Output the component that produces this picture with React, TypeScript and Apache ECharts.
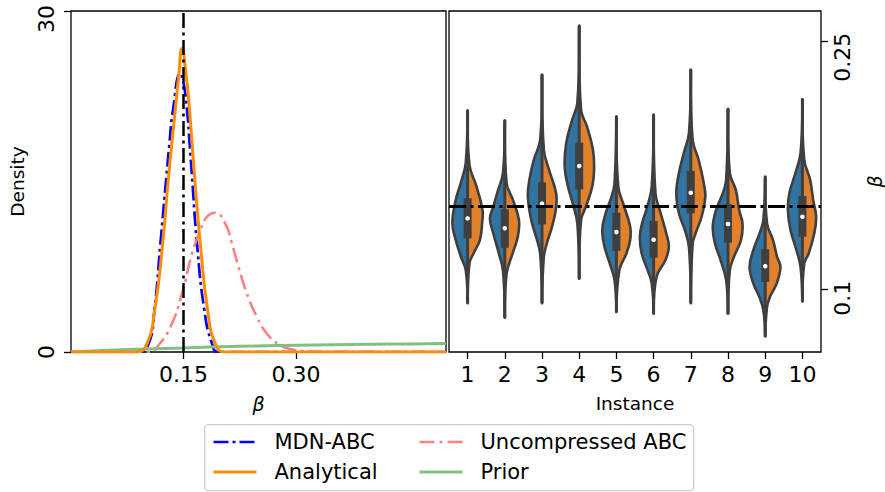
import React, { useEffect, useRef } from 'react';
import * as echarts from 'echarts';

// ---------- data ----------
const betaTicks = [0.15, 0.3];
const instanceLabels = ['1', '2', '3', '4', '5', '6', '7', '8', '9', '10'];
const violinTicks = [0.1, 0.25];
const trueBeta = 0.15;

// left panel: density curves [beta, density]
const mdnAbc: number[][] = [
  [0, 0], [0.09, 0], [0.1036, 0.74], [0.1112, 3.67], [0.1192, 9.54], [0.1272, 15.4], [0.1312, 18.3],
  [0.136, 21.3], [0.1458, 24.5], [0.1502, 23.6], [0.1547, 21.3], [0.1582, 18.3], [0.1614, 15.4],
  [0.168, 9.54], [0.1778, 3.67], [0.188, 0.74], [0.1964, 0], [0.5, 0],
];
const analytical: number[][] = [
  [0, 0], [0.088, 0], [0.1014, 0.74], [0.1116, 3.67], [0.1222, 9.54], [0.13, 15.4], [0.139, 21.3],
  [0.1435, 24.2], [0.148, 26.7], [0.1538, 24.2], [0.158, 21.3], [0.1648, 15.4], [0.1724, 9.54],
  [0.1822, 3.67], [0.1924, 0.74], [0.205, 0], [0.5, 0],
];
const uncompressedAbc: number[][] = [
  [0, 0], [0.106, 0], [0.1148, 0.44], [0.1325, 2.2], [0.148, 5.14], [0.1614, 8.66], [0.1724, 10.7],
  [0.1813, 11.9], [0.1924, 12.25], [0.2057, 11.3], [0.2146, 9.54], [0.2234, 7.48], [0.2346, 5.14],
  [0.2479, 3.08], [0.2612, 1.62], [0.279, 0.59], [0.2967, 0.2], [0.32, 0.04], [0.34, 0], [0.5, 0],
];
const prior: number[][] = [
  [0, 0], [0.05, 0.15], [0.1, 0.26], [0.15, 0.36], [0.2, 0.46], [0.25, 0.53], [0.3, 0.59],
  [0.35, 0.64], [0.4, 0.68], [0.45, 0.71], [0.5, 0.74],
];

// right panel: split violins per instance
const tailTop = [0.2078, 0.2018, 0.2294, 0.2591, 0.2042, 0.2052, 0.2325, 0.2087, 0.1678, 0.2147];
const tailBottom = [0.0915, 0.0827, 0.0915, 0.1063, 0.0861, 0.0851, 0.0915, 0.0851, 0.0713, 0.0925];
const upperQuartile = [0.1548, 0.1481, 0.1644, 0.1884, 0.146, 0.141, 0.1713, 0.1511, 0.1239, 0.1561];
const lowerQuartile = [0.1305, 0.1248, 0.139, 0.1602, 0.123, 0.1188, 0.1457, 0.1279, 0.1042, 0.1315];
const medians = [0.1426, 0.1366, 0.1515, 0.1743, 0.1343, 0.1297, 0.1581, 0.1392, 0.1137, 0.1436];

// [beta, half-width as fraction of the category band], top to bottom
const blueHalves: number[][][] = [
  [[0.176, 0.05], [0.1658, 0.16], [0.1537, 0.32], [0.1396, 0.41], [0.1295, 0.32], [0.1194, 0.18], [0.1113, 0.05]],
  [[0.1699, 0.05], [0.1598, 0.18], [0.1497, 0.31], [0.1426, 0.4], [0.1336, 0.31], [0.1214, 0.16], [0.1113, 0.05]],
  [[0.19, 0.05], [0.178, 0.22], [0.1658, 0.34], [0.1557, 0.38], [0.1416, 0.29], [0.1315, 0.16], [0.1214, 0.05]],
  [[0.2123, 0.05], [0.2022, 0.19], [0.1881, 0.35], [0.1739, 0.39], [0.1618, 0.3], [0.1497, 0.15], [0.1396, 0.05]],
  [[0.1638, 0.05], [0.1557, 0.13], [0.1457, 0.29], [0.1356, 0.38], [0.1254, 0.32], [0.1154, 0.18], [0.1053, 0.05]],
  [[0.1618, 0.05], [0.1497, 0.17], [0.1396, 0.31], [0.1315, 0.37], [0.1214, 0.32], [0.1113, 0.16], [0.1033, 0.05]],
  [[0.1941, 0.05], [0.182, 0.19], [0.1699, 0.32], [0.1578, 0.39], [0.1457, 0.32], [0.1356, 0.16], [0.1254, 0.05]],
  [[0.1658, 0.05], [0.1578, 0.14], [0.1477, 0.32], [0.1376, 0.41], [0.1275, 0.35], [0.1174, 0.2], [0.1053, 0.05]],
  [[0.1416, 0.05], [0.1336, 0.15], [0.1234, 0.32], [0.1133, 0.42], [0.1033, 0.32], [0.0952, 0.16], [0.0871, 0.05]],
  [[0.182, 0.05], [0.1699, 0.19], [0.1578, 0.35], [0.1477, 0.39], [0.1356, 0.32], [0.1234, 0.16], [0.1133, 0.05]],
];
const orangeHalves: number[][][] = [
  [[0.175, 0.05], [0.1618, 0.24], [0.1477, 0.4], [0.1396, 0.39], [0.1295, 0.33], [0.1214, 0.16], [0.1154, 0.05]],
  [[0.1638, 0.05], [0.1537, 0.22], [0.1416, 0.38], [0.1315, 0.35], [0.1214, 0.21], [0.1093, 0.05]],
  [[0.184, 0.05], [0.1719, 0.19], [0.1578, 0.38], [0.1477, 0.37], [0.1376, 0.27], [0.1275, 0.13], [0.1194, 0.05]],
  [[0.2082, 0.05], [0.1981, 0.21], [0.184, 0.37], [0.1719, 0.4], [0.1618, 0.35], [0.1497, 0.18], [0.1416, 0.05]],
  [[0.1618, 0.05], [0.1497, 0.21], [0.1376, 0.37], [0.1295, 0.37], [0.1214, 0.27], [0.1113, 0.08]],
  [[0.1578, 0.05], [0.1457, 0.19], [0.1336, 0.34], [0.1254, 0.41], [0.1174, 0.32], [0.1073, 0.08]],
  [[0.19, 0.05], [0.178, 0.21], [0.1638, 0.35], [0.1557, 0.39], [0.1436, 0.29], [0.1336, 0.13], [0.1275, 0.05]],
  [[0.1699, 0.05], [0.1598, 0.21], [0.1477, 0.3], [0.1396, 0.39], [0.1295, 0.35], [0.1194, 0.16], [0.1113, 0.05]],
  [[0.1396, 0.05], [0.1295, 0.21], [0.1194, 0.32], [0.1133, 0.41], [0.1033, 0.31], [0.0952, 0.13], [0.0891, 0.05]],
  [[0.178, 0.05], [0.1658, 0.21], [0.1537, 0.29], [0.1436, 0.37], [0.1336, 0.32], [0.1214, 0.17], [0.1154, 0.05]],
];

// ---------- styles ----------
const FONT = 'DejaVu Sans';
const EDGE = '#3f3f3f';
const VBLUE = '#3274a1';
const VORANGE = '#e1812c';
const DASHDOT = [15, 4.5, 3, 4.5];

export default function App() {
  const ref = useRef<HTMLDivElement>(null);

  useEffect(() => {
    document.body.style.margin = '0';
    if (!ref.current) return;
    const chart = echarts.init(ref.current, undefined, { renderer: 'svg' });

    const tickLabel = { fontFamily: FONT, fontSize: 22, color: '#000' };
    const axisTick = { show: true, inside: false, length: 7, lineStyle: { color: '#000', width: 1.3 } };

    const legendBase = {
      orient: 'vertical' as const,
      top: 429,
      itemWidth: 43,
      itemHeight: 14,
      itemGap: 4,
      padding: 0,
      selectedMode: false,
      itemStyle: { opacity: 0 },
      lineStyle: { width: 'inherit' },
      textStyle: { fontFamily: FONT, fontSize: 21, color: '#000', lineHeight: 26, padding: [0, 0, 0, 13] },
    };

    const option: any = {
      animation: false,
      backgroundColor: '#fff',
      grid: [
        { left: 71, top: 11, width: 375, height: 341, show: true, borderColor: '#000', borderWidth: 1.3, containLabel: false },
        { left: 449, top: 11, width: 375, height: 341, show: true, borderColor: '#000', borderWidth: 1.3, containLabel: false },
      ],
      xAxis: [
        {
          gridIndex: 0, type: 'value', min: 0, max: 0.5,
          axisLine: { show: false }, splitLine: { show: false },
          axisTick: { ...axisTick, customValues: betaTicks },
          axisLabel: { ...tickLabel, margin: 11, customValues: betaTicks, formatter: (v: number) => v.toFixed(2) },
          name: 'β', nameLocation: 'middle', nameGap: 42,
          nameTextStyle: { fontFamily: FONT, fontSize: 19, fontStyle: 'italic', color: '#000' },
        },
        {
          gridIndex: 1, type: 'category', data: instanceLabels, boundaryGap: true,
          axisLine: { show: false }, splitLine: { show: false },
          axisTick: { ...axisTick, alignWithLabel: true },
          axisLabel: { ...tickLabel, margin: 11 },
          name: 'Instance', nameLocation: 'middle', nameGap: 42,
          nameTextStyle: { fontFamily: FONT, fontSize: 18.5, color: '#000' },
        },
      ],
      yAxis: [
        {
          gridIndex: 0, type: 'value', min: 0, max: 30, interval: 30,
          axisLine: { show: false }, splitLine: { show: false },
          axisTick,
          axisLabel: {
            ...tickLabel, margin: 14, rotate: 90,
            formatter: (v: number) => (v === 30 ? '{s|30}' : '{n|' + v + '}'),
            rich: { s: { ...tickLabel, padding: [0, 16, 0, 0] }, n: { ...tickLabel } },
          },
          name: 'Density', nameLocation: 'middle', nameGap: 44, nameRotate: 90,
          nameTextStyle: { fontFamily: FONT, fontSize: 18.5, color: '#000' },
        },
        {
          gridIndex: 1, type: 'value', position: 'right', min: 0.0618, max: 0.268,
          axisLine: { show: false }, splitLine: { show: false },
          axisTick: { ...axisTick, customValues: violinTicks },
          axisLabel: {
            ...tickLabel, margin: 10, rotate: 90, customValues: violinTicks,
            formatter: (v: number) => (v > 0.2 ? '{a|' + v + '}' : '{b|' + v + '}'),
            rich: { a: { ...tickLabel, padding: [0, 33, 0, 0] }, b: { ...tickLabel, padding: [0, 19, 0, 0] } },
          },
          name: 'β', nameLocation: 'middle', nameGap: 44, nameRotate: 90,
          nameTextStyle: { fontFamily: FONT, fontSize: 19, fontStyle: 'italic', color: '#000' },
        },
      ],
      legend: [
        { ...legendBase, left: 212, data: ['MDN-ABC', 'Analytical'] },
        { ...legendBase, left: 418, data: ['Uncompressed ABC', 'Prior'] },
      ],
      graphic: [
        {
          type: 'rect', left: 204, top: 424, z: -1,
          shape: { width: 489, height: 66, r: 4 },
          style: { fill: '#fff', stroke: '#cccccc', lineWidth: 1.3 },
        },
      ],
      series: [
        {
          name: 'MDN-ABC', type: 'line', xAxisIndex: 0, yAxisIndex: 0, data: mdnAbc,
          symbol: 'none', smooth: 0.5, z: 3,
          lineStyle: { color: '#0000ff', width: 2.7, type: [15, 4, 3, 4] },
          itemStyle: { color: '#0000ff' },
          markLine: {
            silent: true, symbol: ['none', 'none'], label: { show: false }, z: 5,
            lineStyle: { color: '#000', width: 2.5, type: DASHDOT },
            data: [{ xAxis: trueBeta }],
          },
        },
        {
          name: 'Analytical', type: 'line', xAxisIndex: 0, yAxisIndex: 0, data: analytical,
          symbol: 'none', smooth: 0.5, z: 4,
          lineStyle: { color: '#ff8c00', width: 3 },
          itemStyle: { color: '#ff8c00' },
        },
        {
          name: 'Uncompressed ABC', type: 'line', xAxisIndex: 0, yAxisIndex: 0, data: uncompressedAbc,
          symbol: 'none', smooth: 0.5, z: 3,
          lineStyle: { color: '#ff8080', width: 2.6, type: [15, 5, 3, 5] },
          itemStyle: { color: '#ff8080' },
        },
        {
          name: 'Prior', type: 'line', xAxisIndex: 0, yAxisIndex: 0, data: prior,
          symbol: 'none', smooth: 0.5, z: 3,
          lineStyle: { color: '#80c080', width: 3 },
          itemStyle: { color: '#80c080' },
        },
        {
          name: 'violins', type: 'custom', xAxisIndex: 1, yAxisIndex: 1,
          data: instanceLabels.map((_, i) => [i, medians[i]]),
          encode: { x: 0, y: 1 },
          renderItem: (params: any, api: any) => {
            const i = params.dataIndex;
            const cx = api.coord([i, medians[i]])[0];
            const band = api.size([1, 0])[0];
            const py = (b: number) => api.coord([i, b])[1];
            const half = (prof: number[][], sign: number) => {
              const pts: number[][] = [[cx, py(tailTop[i])]];
              prof.forEach(([b, w]) => pts.push([cx + sign * w * band, py(b)]));
              pts.push([cx, py(tailBottom[i])]);
              return pts;
            };
            const yq3 = py(upperQuartile[i]);
            const yq1 = py(lowerQuartile[i]);
            return {
              type: 'group',
              children: [
                {
                  type: 'polyline', shape: { points: half(blueHalves[i], -1), smooth: 0.4 },
                  style: { fill: VBLUE, stroke: EDGE, lineWidth: 2.6, lineJoin: 'round' },
                },
                {
                  type: 'polyline', shape: { points: half(orangeHalves[i], 1), smooth: 0.4 },
                  style: { fill: VORANGE, stroke: EDGE, lineWidth: 2.6, lineJoin: 'round' },
                },
                {
                  type: 'line', shape: { x1: cx, y1: py(tailTop[i]), x2: cx, y2: py(tailBottom[i]) },
                  style: { stroke: EDGE, lineWidth: 3, lineCap: 'round' },
                },
                {
                  type: 'rect', shape: { x: cx - 4, y: yq3, width: 8, height: yq1 - yq3 },
                  style: { fill: EDGE },
                },
                {
                  type: 'circle', shape: { cx, cy: py(medians[i]), r: 2.3 },
                  style: { fill: '#fff' },
                },
              ],
            };
          },
          markLine: {
            silent: true, symbol: ['none', 'none'], label: { show: false }, z: 5,
            lineStyle: { color: '#000', width: 3, type: [17, 4.5, 3, 4.5] },
            data: [{ yAxis: trueBeta }],
          },
        },
      ],
    };

    chart.setOption(option);
    return () => chart.dispose();
  }, []);

  return (
    <div
      ref={ref}
      style={{ position: 'absolute', left: 0, top: 0, width: 885, height: 492 }}
    />
  );
}
